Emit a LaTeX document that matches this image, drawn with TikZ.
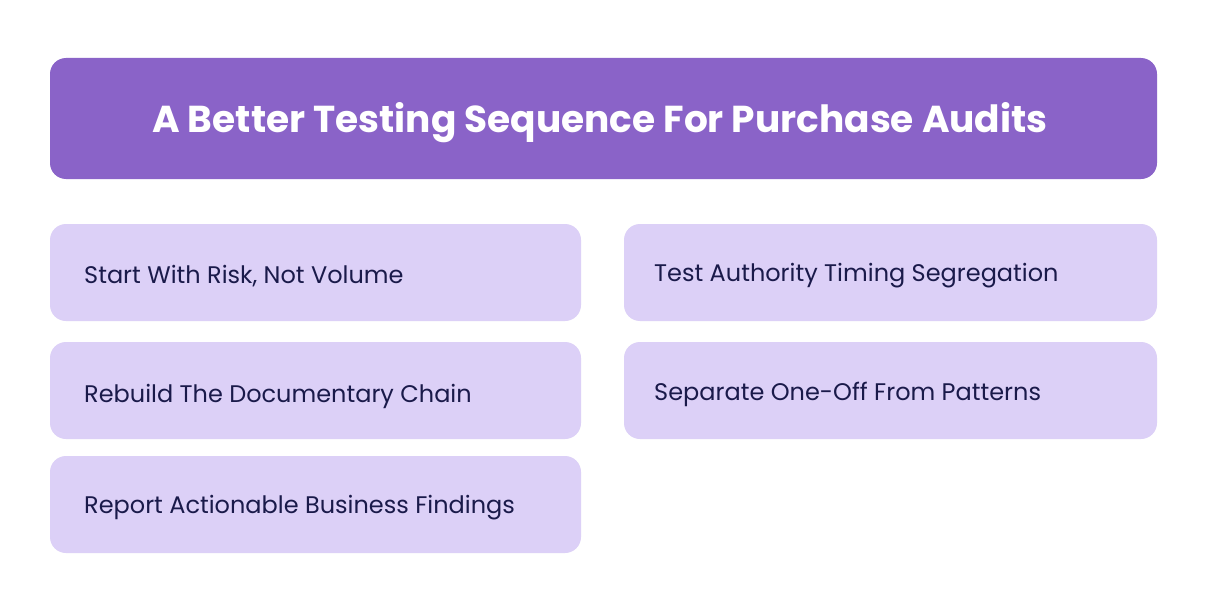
\documentclass[tikz,border=0pt]{standalone}
\usepackage{fontspec}
\setmainfont{Poppins}
\definecolor{titlebg}{HTML}{8A63C8}
\definecolor{itembg}{HTML}{DCD0F7}
\definecolor{itemtext}{HTML}{1A1A4A}
\begin{document}
\begin{tikzpicture}[x=1pt,y=-1pt,
  titlebox/.style={fill=titlebg,rounded corners=16pt,draw=none},
  itembox/.style={fill=itembg,rounded corners=16pt,draw=none},
  itemlabel/.style={anchor=west,text=itemtext,font=\fontsize{24}{28}\selectfont,inner sep=0pt}]
\useasboundingbox[fill=white] (0,0) rectangle (1208,602);
\fill[titlebox] (50,58) rectangle (1157,179);
\node[text=white,font=\fontsize{37.5}{44}\selectfont\bfseries] (title) at (600,123) {A Better Testing Sequence For Purchase Audits};
\fill[itembox] (50,224) rectangle (581,321);
\node[itemlabel] (i1) at (84,276) {Start With Risk, Not Volume};
\fill[itembox] (50,342) rectangle (581,439);
\node[itemlabel] (i2) at (84,396) {Rebuild The Documentary Chain};
\fill[itembox] (50,456) rectangle (581,553);
\node[itemlabel] (i3) at (84,508) {Report Actionable Business Findings};
\fill[itembox] (624,224) rectangle (1157,321);
\node[itemlabel] (i4) at (654,276) {Test Authority Timing Segregation};
\fill[itembox] (624,342) rectangle (1157,439);
\node[itemlabel] (i5) at (654,394) {Separate One-Off From Patterns};
\end{tikzpicture}
\end{document}
